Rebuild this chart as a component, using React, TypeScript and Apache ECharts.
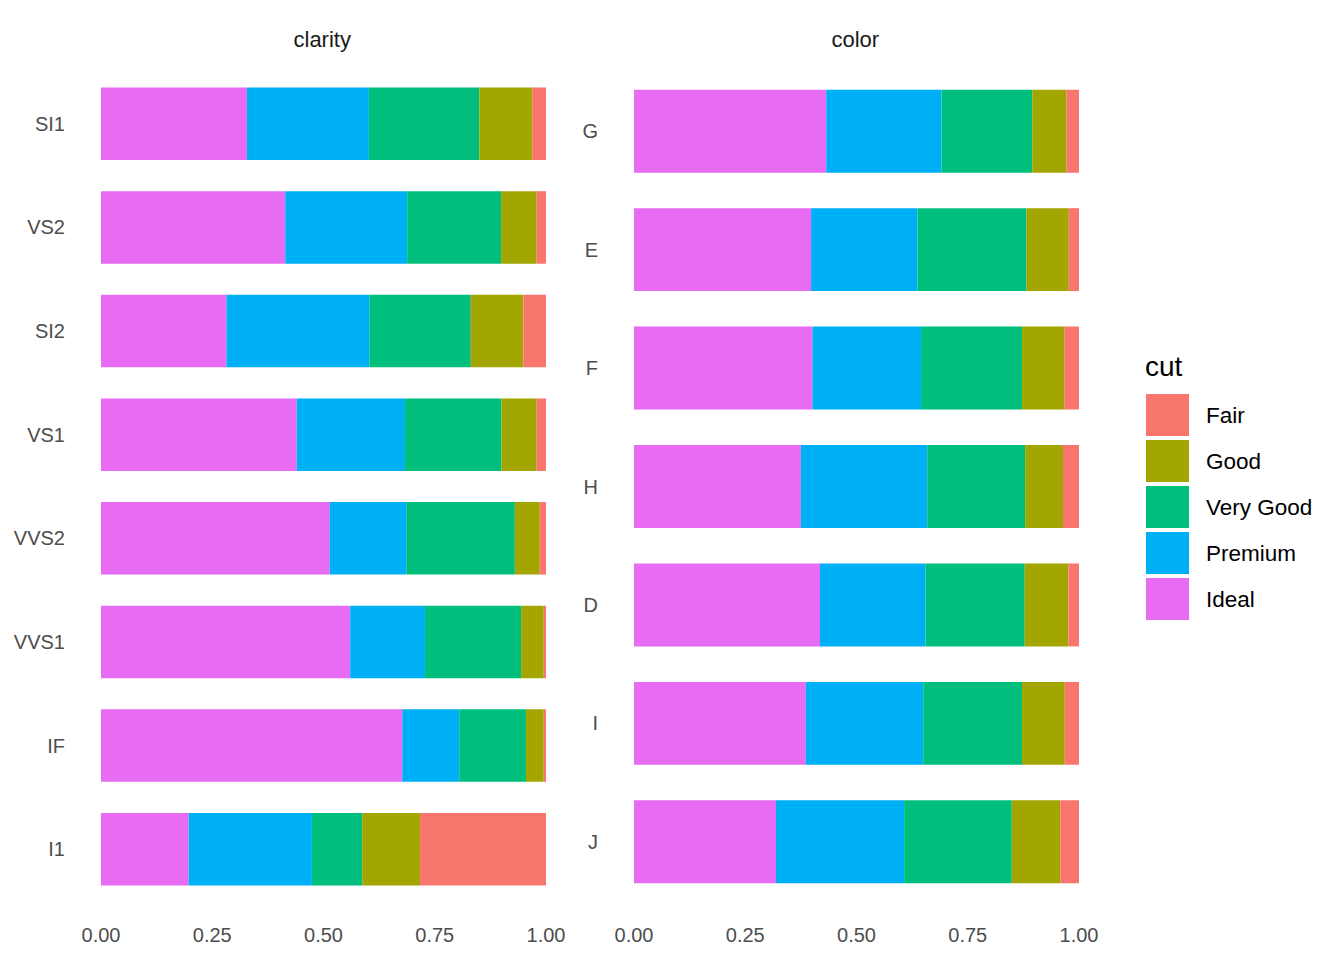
import React, { useEffect, useRef } from "react";
import * as echarts from "echarts";

const cuts = ["Ideal", "Premium", "Very Good", "Good", "Fair"];
const legendOrder = ["Fair", "Good", "Very Good", "Premium", "Ideal"];
const cutColors = ["#E76BF3", "#00B0F6", "#00BF7D", "#A3A500", "#F8766D"];

// bottom -> top
const clarityCats = ["I1", "IF", "VVS1", "VVS2", "VS1", "SI2", "VS2", "SI1"];
const clarityIdeal = [0.197, 0.677, 0.560, 0.514, 0.440, 0.282, 0.414, 0.328];
const clarityPremium = [0.277, 0.128, 0.168, 0.172, 0.243, 0.321, 0.274, 0.274];
const clarityVeryGood = [0.113, 0.150, 0.216, 0.244, 0.217, 0.228, 0.211, 0.248];
const clarityGood = [0.130, 0.040, 0.051, 0.056, 0.079, 0.118, 0.080, 0.119];
const clarityFair = [0.283, 0.005, 0.005, 0.014, 0.021, 0.051, 0.021, 0.031];

const colorCats = ["J", "I", "D", "H", "F", "E", "G"];
const colorIdeal = [0.319, 0.386, 0.418, 0.375, 0.401, 0.398, 0.432];
const colorPremium = [0.288, 0.264, 0.237, 0.284, 0.244, 0.239, 0.259];
const colorVeryGood = [0.242, 0.222, 0.223, 0.220, 0.227, 0.245, 0.204];
const colorGood = [0.109, 0.096, 0.098, 0.085, 0.095, 0.095, 0.077];
const colorFair = [0.042, 0.032, 0.024, 0.036, 0.033, 0.023, 0.028];

const xTicks = [0, 0.25, 0.5, 0.75, 1];

const FONT = "'Liberation Sans', Arial, sans-serif";

export default function App() {
  const ref = useRef<HTMLDivElement>(null);
  useEffect(() => {
    document.body.style.margin = "0";
    if (!ref.current) return;
    const chart = echarts.init(ref.current, undefined, { renderer: "svg" });
    const clarityData = [clarityIdeal, clarityPremium, clarityVeryGood, clarityGood, clarityFair];
    const colorData = [colorIdeal, colorPremium, colorVeryGood, colorGood, colorFair];

    const xAxisBase = (gridIndex: number) => ({
      type: "value",
      gridIndex,
      min: xTicks[0],
      max: xTicks[xTicks.length - 1],
      interval: 0.25,
      axisLine: { show: false },
      axisTick: { show: false },
      splitLine: { show: false },
      axisLabel: {
        color: "#4D4D4D",
        fontSize: 20,
        fontFamily: FONT,
        margin: 24,
        formatter: (v: number) => v.toFixed(2),
      },
    });
    const yAxisBase = (gridIndex: number, data: string[]) => ({
      type: "category",
      gridIndex,
      data,
      axisLine: { show: false },
      axisTick: { show: false },
      splitLine: { show: false },
      axisLabel: { color: "#4D4D4D", fontSize: 20, fontFamily: FONT, margin: 36 },
    });

    const series: any[] = [];
    cuts.forEach((c, i) => {
      series.push({
        name: c,
        type: "bar",
        stack: "clarity",
        xAxisIndex: 0,
        yAxisIndex: 0,
        barWidth: "70%",
        itemStyle: { color: cutColors[i] },
        data: clarityData[i],
      });
    });
    cuts.forEach((c, i) => {
      series.push({
        name: c,
        type: "bar",
        stack: "color",
        xAxisIndex: 1,
        yAxisIndex: 1,
        barWidth: "70%",
        itemStyle: { color: cutColors[i] },
        data: colorData[i],
      });
    });

    chart.setOption({
      animation: false,
      backgroundColor: "#FFFFFF",
      grid: [
        { left: 101, top: 72, width: 445, height: 829 },
        { left: 634, top: 72, width: 445, height: 829 },
      ],
      xAxis: [xAxisBase(0), xAxisBase(1)],
      yAxis: [yAxisBase(0, clarityCats), yAxisBase(1, colorCats)],
      legend: {
        data: legendOrder,
        orient: "vertical",
        left: 1146,
        top: 394,
        padding: 0,
        itemWidth: 43,
        itemHeight: 42,
        itemGap: 4,
        icon: "rect",
        selectedMode: false,
        textStyle: {
          color: "#000000",
          fontSize: 22.5,
          fontFamily: FONT,
          padding: [3, 0, 0, 12],
        },
      },
      graphic: [
        {
          type: "text",
          left: 323.5 - 30,
          top: 28,
          style: { text: "clarity", fontSize: 22, fontFamily: FONT, fill: "#1A1A1A" },
        },
        {
          type: "text",
          left: 856.5 - 25,
          top: 28,
          style: { text: "color", fontSize: 22, fontFamily: FONT, fill: "#1A1A1A" },
        },
        {
          type: "text",
          left: 1145,
          top: 352,
          style: { text: "cut", fontSize: 28, fontFamily: FONT, fill: "#000000" },
        },
      ],
      series,
    });
    return () => chart.dispose();
  }, []);
  return <div ref={ref} style={{ width: 1344, height: 960 }} />;
}
